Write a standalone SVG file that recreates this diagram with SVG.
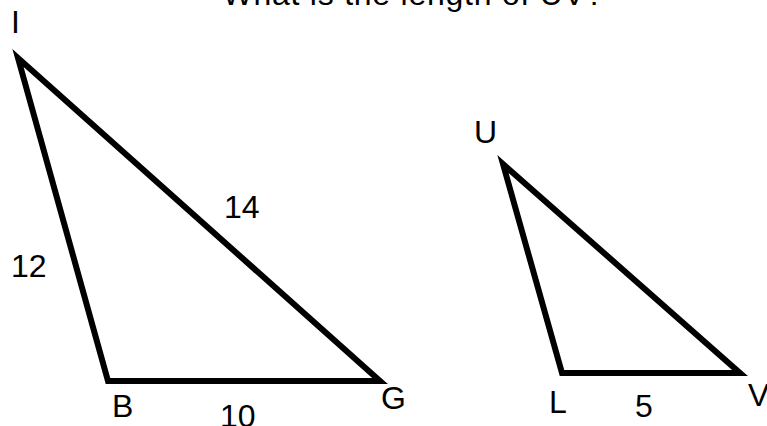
<svg xmlns="http://www.w3.org/2000/svg" width="767" height="426" viewBox="0 0 767 426">
<style>
.lbl{font-family:"Liberation Sans","DejaVu Sans",sans-serif;font-size:32px;fill:#000}
.tri{fill:none;stroke:#000;stroke-width:6;stroke-linejoin:miter;stroke-miterlimit:10}
</style>
<rect width="767" height="426" fill="#fff"/>
<text class="lbl" x="413" y="5" text-anchor="middle" textLength="381" font-size="33">What is the length of UV?</text>
<g id="triangle-IBG">
<polygon class="tri" points="18,58 108,381 380,381"/>
<text class="lbl" x="11" y="33">I</text>
<text class="lbl" x="112" y="417">B</text>
<text class="lbl" x="381" y="409">G</text>
<text class="lbl" x="11" y="277">12</text>
<text class="lbl" x="224" y="218">14</text>
<text class="lbl" x="220" y="427">10</text>
</g>
<g id="triangle-ULV">
<polygon class="tri" points="503,164 562,373 740,373"/>
<text class="lbl" x="474" y="143">U</text>
<text class="lbl" x="549" y="413">L</text>
<text class="lbl" x="635" y="417">5</text>
<text class="lbl" x="748" y="406">V</text>
</g>
</svg>
